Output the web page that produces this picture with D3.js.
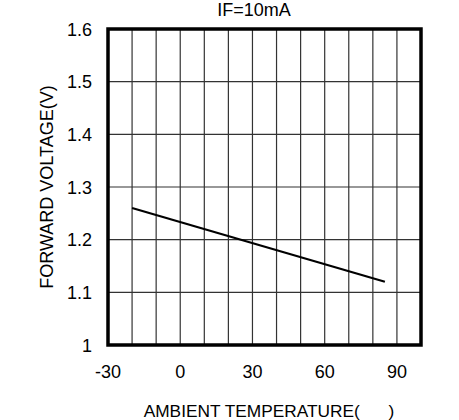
<!DOCTYPE html>
<html>
<head>
<meta charset="utf-8">
<script src="https://cdn.jsdelivr.net/npm/d3@7"></script>
<style>
  body { margin: 0; background: #fff; }
  text { font-family: "Liberation Sans", Arial, sans-serif; fill: #000; font-size: 18px; }
</style>
</head>
<body>
<svg id="chart" width="459" height="420"></svg>
<script>
// values
const temps = [-20, 85];
const volts = [1.26, 1.12];
const xTicks = [-30, 0, 30, 60, 90];
const yTicks = [1, 1.1, 1.2, 1.3, 1.4, 1.5, 1.6];
const xGrid = d3.range(-20, 100, 10);
const title = 'IF=10mA';

const svg = d3.select('#chart');
const plotL = 108, plotR = 421, plotT = 29, plotB = 345;

const x = d3.scaleLinear().domain([-30, 100]).range([plotL, plotR]);
const y = d3.scaleLinear().domain([1, 1.6]).range([plotB, plotT]);

// grid
svg.append('g')
    .selectAll('line')
    .data(xGrid)
    .join('line')
    .attr('x1', d => x(d)).attr('x2', d => x(d))
    .attr('y1', plotT).attr('y2', plotB)
    .attr('stroke', '#333').attr('stroke-width', 1.2);

svg.append('g')
    .selectAll('line')
    .data(yTicks.slice(1, -1))
    .join('line')
    .attr('x1', plotL).attr('x2', plotR)
    .attr('y1', d => y(d)).attr('y2', d => y(d))
    .attr('stroke', '#333').attr('stroke-width', 1.2);

// curve
svg.append('path')
    .datum(d3.zip(temps, volts))
    .attr('fill', 'none')
    .attr('stroke', '#000')
    .attr('stroke-width', 2.2)
    .attr('d', d3.line().x(d => x(d[0])).y(d => y(d[1])));

// frame
svg.append('rect')
    .attr('x', plotL).attr('y', plotT)
    .attr('width', plotR - plotL).attr('height', plotB - plotT)
    .attr('fill', 'none').attr('stroke', '#000').attr('stroke-width', 3.5);

// tick labels
svg.append('g')
    .selectAll('text')
    .data(xTicks)
    .join('text')
    .attr('x', d => x(d)).attr('y', 378)
    .attr('text-anchor', 'middle')
    .text(d => d);

svg.append('g')
    .selectAll('text')
    .data(yTicks)
    .join('text')
    .attr('x', 92).attr('y', d => y(d) + 6.5)
    .attr('text-anchor', 'end')
    .text(d => d3.format('~g')(d));

// titles
svg.append('text')
    .attr('x', 254).attr('y', 16)
    .attr('text-anchor', 'middle')
    .text(title);

svg.append('text')
    .attr('x', 269).attr('y', 417)
    .attr('text-anchor', 'middle')
    .style('font-size', '17.3px')
    .text('AMBIENT TEMPERATURE(\u00a0\u00a0\u00a0\u00a0\u00a0\u00a0)');

svg.append('text')
    .attr('transform', 'translate(53,187) rotate(-90)')
    .attr('text-anchor', 'middle')
    .text('FORWARD VOLTAGE(V)');
</script>
</body>
</html>
